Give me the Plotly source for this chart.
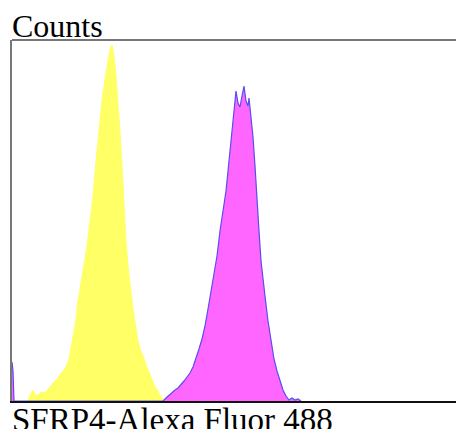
import plotly.graph_objects as go

# Fluorescence channel (arbitrary units) and event counts
ctrl_x = [16, 18, 21, 24, 27, 30, 33, 36, 39, 42, 45, 48, 51, 54, 57, 60, 63, 66, 69, 72,
          75, 78, 81, 84, 87, 90, 93, 96, 98, 100, 102, 104, 106, 108, 110, 112, 114, 116,
          118, 120, 122, 124, 126, 128, 131, 134, 137, 140, 143, 146, 149, 152]
ctrl_y = [0, 6, 11, 5, 7, 9, 8, 12, 15, 19, 22, 26, 30, 34, 42, 58, 75, 100, 118, 135,
          155, 180, 205, 240, 270, 300, 322, 342, 352, 356, 345, 325, 300, 268, 235, 195,
          160, 135, 115, 100, 85, 72, 60, 52, 45, 36, 28, 20, 14, 10, 4, 0]

sfrp4_x = [0, 1, 2, 151, 154, 157, 160, 163, 166, 169, 172, 175, 178, 181, 184, 187, 190,
           193, 196, 199, 202, 205, 208, 211, 214, 217, 219, 221, 223, 224, 226, 228, 230,
           232, 234, 236, 237, 239, 241, 243, 245, 247, 249, 251, 253, 256, 259, 262, 265,
           268, 271, 274, 277, 280, 283, 286, 289]
sfrp4_y = [39, 30, 0, 0, 3, 6, 8, 11, 13, 16, 20, 24, 28, 34, 42, 52, 62, 75, 92, 110,
           128, 145, 170, 190, 210, 240, 262, 285, 305, 310, 298, 294, 305, 315, 300, 295,
           303, 285, 264, 235, 198, 170, 140, 125, 105, 80, 60, 42, 30, 20, 11, 5, 1, 3,
           1, 2, 0]

x_label = "SFRP4-Alexa Fluor 488"
y_label = "Counts"

fig = go.Figure()
fig.add_trace(go.Scatter(x=ctrl_x, y=ctrl_y, mode="lines", fill="tozeroy",
                         line=dict(color="#FFFF66", width=1), fillcolor="#FFFF66",
                         hoverinfo="skip"))
fig.add_trace(go.Scatter(x=sfrp4_x, y=sfrp4_y, mode="lines", fill="tozeroy",
                         line=dict(color="#5A4CF0", width=1.2), fillcolor="#FF66FF",
                         hoverinfo="skip"))

fig.update_layout(
    width=456, height=429,
    margin=dict(l=12, r=0, t=40, b=28),
    paper_bgcolor="white", plot_bgcolor="white",
    showlegend=False,
    font=dict(family="Liberation Serif", color="black"),
    xaxis=dict(range=[0, 444], showgrid=False, zeroline=False, showticklabels=False,
               ticks="", showline=True, linecolor="#111111", linewidth=2),
    yaxis=dict(range=[0, 361], showgrid=False, zeroline=False, showticklabels=False,
               ticks="", showline=True, linecolor="#777777", linewidth=2),
    shapes=[dict(type="line", xref="paper", yref="paper", x0=0, x1=1, y0=1, y1=1,
                 line=dict(color="#777777", width=2))],
    annotations=[
        dict(text=y_label, xref="paper", yref="paper", x=0, y=1, xanchor="left",
             yanchor="bottom", showarrow=False, xshift=-2, yshift=-6,
             font=dict(size=32, family="Liberation Serif", color="black")),
        dict(text=x_label, xref="paper", yref="paper", x=0, y=0, xanchor="left",
             yanchor="top", showarrow=False, xshift=-2, yshift=1,
             font=dict(size=33, family="Liberation Serif", color="black")),
    ],
)

fig.write_html(
    "out.html",
    config={"displayModeBar": False},
    post_script="document.body.style.margin='0';document.body.style.overflow='hidden';",
)
